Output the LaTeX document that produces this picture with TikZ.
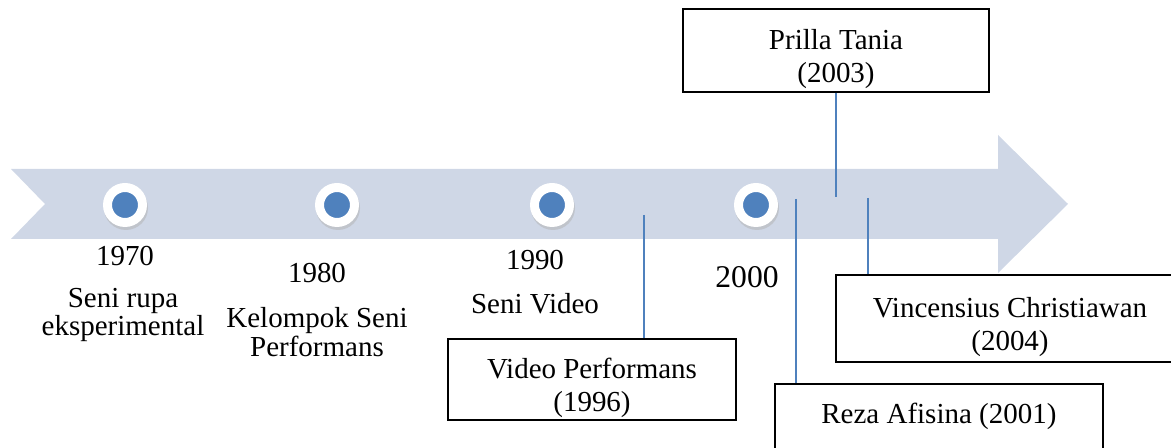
\documentclass[tikz,border=0pt]{standalone}
\usepackage{fontspec}
\setmainfont{Liberation Serif}
\usetikzlibrary{positioning}
\definecolor{bandgrey}{RGB}{207,215,230}
\definecolor{dotblue}{RGB}{79,129,189}

\begin{document}
\begin{tikzpicture}[
  x=0.02cm, y=-0.02cm,
  every node/.style={font=\fontsize{16.5}{16.5}\selectfont},
  year/.style={align=center, inner sep=0pt},
  event/.style={draw, line width=1.1pt, align=center, inner sep=0pt,
                font=\fontsize{16.5}{18.8}\selectfont, text height=1.42cm},
  dot/.style={circle, fill=dotblue, draw=white, line width=5.1pt,
              minimum size=0.7cm, inner sep=0pt},
  tick/.style={draw=dotblue, line width=0.85pt}
]
  \useasboundingbox (0,0) rectangle (1171,448);
  \clip (0,0) rectangle (1171,448);
  \fill[bandgrey] (11,169) -- (998,169) -- (998,135) -- (1068,204)
    -- (998,273) -- (998,239) -- (11,239) -- (45,204) -- cycle;
  \foreach \px/\yr in {125/1970, 337/1980, 552/1990, 756/2000} {
    \fill[black!30, opacity=0.5] (\px+1,208) circle[radius=22];
    \node[dot] (d\yr) at (\px,205) {};
  }
  \node[year] (y70) at (125,256) {1970};
  \node[year] (t70) at (123,315) {Seni rupa\\eksperimental};
  \node[year] (y80) at (317,273) {1980};
  \node[year] (t80) at (317,332) {Kelompok Seni\\Performans};
  \node[year] (y90) at (535,260) {1990};
  \node[year] (t90) at (535,304) {Seni Video};
  \node[year, font=\fontsize{18}{18}\selectfont] (y00) at (747,277) {2000};

  \node[event, minimum width=5.76cm, minimum height=1.62cm] (vp) at (592,379.5)
    {Video Performans\\(1996)};
  \node[event, minimum width=6.12cm, minimum height=1.66cm] (pt) at (836,50.5)
    {Prilla Tania\\(2003)};
  \node[event, minimum width=6.96cm, minimum height=1.74cm] (vc) at (1010,318.5)
    {Vincensius Christiawan\\(2004)};
  \node[event, anchor=north west, minimum width=6.56cm, text height=0.8cm,
        text depth=1.2cm] (ra) at (774,383) {Reza Afisina (2001)};

  \coordinate (c96) at (644,215);
  \coordinate (c01) at (796,199);
  \coordinate (c03) at (836,197);
  \coordinate (c04) at (868,198);
  \draw[tick] (c96) -- (c96 |- vp.north);
  \draw[tick] (c01) -- (c01 |- ra.north);
  \draw[tick] (pt) -- (c03);
  \draw[tick] (c04) -- (c04 |- vc.north);
\end{tikzpicture}
\end{document}
